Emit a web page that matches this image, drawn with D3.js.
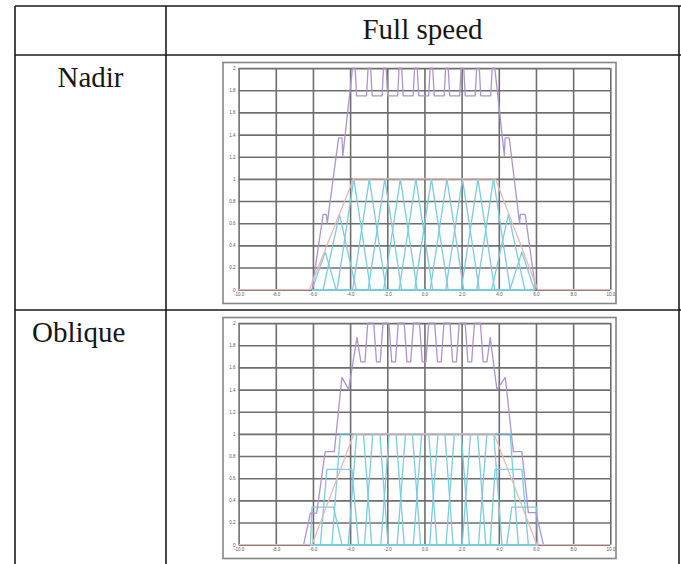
<!DOCTYPE html>
<html lang="en">
<head>
<meta charset="utf-8" />
<title>Full speed</title>
<style>
  body { margin: 0; background: #fff; }
  .label { font-family: "Liberation Serif", "Times New Roman", serif; font-size: 29px; fill: #161616; }
  .rule { stroke: #1a1a1a; stroke-width: 1.6px; }
  .frame { fill: #fff; stroke: #858585; stroke-width: 1.6px; }
  .grid line { stroke: #6e6e6e; stroke-width: 1.6px; }
  .grid .tick text { font-family: "Liberation Sans", Arial, sans-serif; font-size: 4.5px; fill: #555; }
  .line { fill: none; stroke-width: 1.3px; stroke-linejoin: round; }
</style>
<script src="https://cdn.jsdelivr.net/npm/d3@7/dist/d3.min.js"></script>
</head>
<body>
<script>
// tick values and labels
var xTicks = [-10, -8, -6, -4, -2, 0, 2, 4, 6, 8, 10];
var xTickLabels = ["-10.0", "-8.0", "-6.0", "-4.0", "-2.0", "0.0", "2.0", "4.0", "6.0", "8.0", "10.0"];
var yTicks = [0, 0.2, 0.4, 0.6, 0.8, 1, 1.2, 1.4, 1.6, 1.8, 2];
var yTickLabels = ["0", "0.2", "0.4", "0.6", "0.8", "1", "1.2", "1.4", "1.6", "1.8", "2"];

var headerText = "Full speed";
var rowLabels = ["Nadir", "Oblique"];

// ---- Nadir ----
var nadirEnvelope = [[-10, 0], [-6.2, 0], [-3.82, 1], [3.82, 1], [6.1, 0], [10, 0]];
var nadirTotal = [[-6.05, 0], [-5.45, 0.68], [-5.28, 0.68], [-5.23, 0.6], [-4.62, 1.37], [-4.44, 1.37],
  [-4.39, 1.21], [-3.87, 2], [-3.73, 2], [-3.65, 1.75],
  [-3.115, 1.75], [-3.035, 2], [-2.895, 2], [-2.815, 1.75],
  [-2.28, 1.75], [-2.2, 2], [-2.06, 2], [-1.98, 1.75],
  [-1.445, 1.75], [-1.365, 2], [-1.225, 2], [-1.145, 1.75],
  [-0.61, 1.75], [-0.53, 2], [-0.39, 2], [-0.31, 1.75],
  [0.225, 1.75], [0.305, 2], [0.445, 2], [0.525, 1.75],
  [1.06, 1.75], [1.14, 2], [1.28, 2], [1.36, 1.75],
  [1.895, 1.75], [1.975, 2], [2.115, 2], [2.195, 1.75],
  [2.73, 1.75], [2.81, 2], [2.95, 2], [3.03, 1.75],
  [3.565, 1.75], [3.645, 2], [3.785, 2],
  [4.3, 1.21], [4.34, 1.37], [4.56, 1.37], [5.12, 0.6], [5.16, 0.68], [5.42, 0.68], [5.98, 0]];
var nadirBase = [-6.05, 5.95];
var nadirFootprints = [
  [[-6.05, 0], [-5.34, 0.34], [-4.75, 0]],
  [[-5.45, 0], [-4.57, 0.68], [-3.67, 0]],
  [[-4.7, 0], [-3.8, 1], [-2.9, 0]],
  [[-3.865, 0], [-2.965, 1], [-2.065, 0]],
  [[-3.03, 0], [-2.13, 1], [-1.23, 0]],
  [[-2.195, 0], [-1.295, 1], [-0.395, 0]],
  [[-1.36, 0], [-0.46, 1], [0.44, 0]],
  [[-0.525, 0], [0.375, 1], [1.275, 0]],
  [[0.31, 0], [1.21, 1], [2.11, 0]],
  [[1.145, 0], [2.045, 1], [2.945, 0]],
  [[1.98, 0], [2.88, 1], [3.78, 0]],
  [[2.815, 0], [3.715, 1], [4.615, 0]],
  [[3.62, 0], [4.52, 0.68], [5.4, 0]],
  [[4.6, 0], [5.24, 0.34], [5.92, 0]]
];

// ---- Oblique ----
var obliqueEnvelope = [[-10, 0], [-6.05, 0], [-3.8, 1], [3.75, 1], [6.05, 0], [10, 0]];
var obliqueTotal = [[-6.5, 0], [-6.14, 0.285], [-5.8, 0.285], [-5.34, 0.84], [-4.85, 0.84], [-4.44, 1.51],
  [-4.08, 1.4], [-3.63, 1.87], [-3.42, 1.65], [-3.2, 1.65], [-3.05, 2],
  [-2.73, 2], [-2.58, 1.65], [-2.38, 1.65], [-2.23, 2],
  [-1.91, 2], [-1.76, 1.65], [-1.56, 1.65], [-1.41, 2],
  [-1.09, 2], [-0.94, 1.65], [-0.74, 1.65], [-0.59, 2],
  [-0.27, 2], [-0.12, 1.65], [0.08, 1.65], [0.23, 2],
  [0.55, 2], [0.7, 1.65], [0.9, 1.65], [1.05, 2],
  [1.37, 2], [1.52, 1.65], [1.72, 1.65], [1.87, 2],
  [2.19, 2], [2.34, 1.65], [2.54, 1.65], [2.69, 2],
  [3.01, 2], [3.16, 1.65], [3.36, 1.65], [3.54, 1.87], [3.9, 1.4], [4.35, 1.51],
  [4.78, 0.84], [5.24, 0.84], [5.59, 0.29], [6.0, 0.29], [6.4, 0]];
var obliqueBase = [-6.14, 6.1];
var obliqueFootprints = [
  [[-6.14, 0], [-6.05, 0.34], [-4.89, 0.34], [-4.44, 0]],
  [[-5.6, 0], [-5.25, 0.68], [-3.9, 0.68], [-3.55, 0]],
  [[-4.98, 0], [-4.53, 1], [-3.28, 1], [-2.84, 0]],
  [[-4.1, 0], [-3.65, 1], [-2.4, 1], [-1.96, 0]],
  [[-3.23, 0], [-2.78, 1], [-1.53, 1], [-1.09, 0]],
  [[-2.35, 0], [-1.9, 1], [-0.65, 1], [-0.21, 0]],
  [[-1.47, 0], [-1.02, 1], [0.23, 1], [0.67, 0]],
  [[-0.6, 0], [-0.15, 1], [1.1, 1], [1.54, 0]],
  [[0.28, 0], [0.73, 1], [1.98, 1], [2.42, 0]],
  [[1.16, 0], [1.61, 1], [2.86, 1], [3.3, 0]],
  [[2.03, 0], [2.48, 1], [3.73, 1], [4.17, 0]],
  [[2.91, 0], [3.36, 1], [4.61, 1], [5.05, 0]],
  [[3.53, 0], [3.8, 0.68], [5.24, 0.68], [5.59, 0]],
  [[4.43, 0], [4.7, 0.34], [6.04, 0.34], [6.1, 0]]
];

var charts = [
  {top: 62.5, envelope: nadirEnvelope, total: nadirTotal, base: nadirBase, prints: nadirFootprints},
  {top: 317.5, envelope: obliqueEnvelope, total: obliqueTotal, base: obliqueBase, prints: obliqueFootprints}
];

var svg = d3.select("body").append("svg")
  .attr("width", 681)
  .attr("height", 564);

// table rules
var hRules = [6, 55, 310];
hRules.forEach(function(yy) {
  svg.append("line").attr("class", "rule")
    .attr("x1", 15).attr("x2", 681).attr("y1", yy).attr("y2", yy);
});
[15, 166, 679].forEach(function(xx) {
  svg.append("line").attr("class", "rule")
    .attr("x1", xx).attr("x2", xx).attr("y1", 6).attr("y2", 564);
});

svg.append("text").attr("class", "label")
  .attr("x", 422.5).attr("y", 39).attr("text-anchor", "middle")
  .text(headerText);
svg.append("text").attr("class", "label")
  .attr("x", 90.5).attr("y", 87).attr("text-anchor", "middle")
  .text(rowLabels[0]);
svg.append("text").attr("class", "label")
  .attr("x", 32).attr("y", 342)
  .text(rowLabels[1]);

// plot geometry inside each chart frame
var frameW = 393, frameH = 241;
var margin = {left: 15.6, top: 5.6};
var width = 371.7, height = 221.6;

var x = d3.scaleLinear().domain([-10, 10]).range([0, width]);
var y = d3.scaleLinear().domain([0, 2]).range([height, 0]);

var line = d3.line()
  .x(function(d) { return x(d[0]); })
  .y(function(d) { return y(d[1]); });

charts.forEach(function(c) {
  var frame = svg.append("g")
    .attr("transform", "translate(223," + c.top + ")");

  frame.append("rect").attr("class", "frame")
    .attr("width", frameW).attr("height", frameH);

  var g = frame.append("g")
    .attr("transform", "translate(" + margin.left + "," + margin.top + ")");

  // gridlines + labels
  g.append("g").attr("class", "grid")
    .attr("transform", "translate(0," + height + ")")
    .call(d3.axisBottom(x).tickValues(xTicks).tickSize(-height).tickPadding(3)
      .tickFormat(function(d, i) { return xTickLabels[i]; }))
    .call(function(a) { a.select(".domain").remove(); });

  g.append("g").attr("class", "grid")
    .call(d3.axisLeft(y).tickValues(yTicks).tickSize(-width).tickPadding(3)
      .tickFormat(function(d, i) { return yTickLabels[i]; }))
    .call(function(a) { a.select(".domain").remove(); });

  // footprints (cyan), each padded out along zero
  c.prints.forEach(function(p) {
    var pts = [[c.base[0], 0]].concat(p, [[c.base[1], 0]]);
    g.append("path")
      .datum(pts)
      .attr("class", "line")
      .style("stroke", "#7ccbde")
      .attr("d", line);
  });

  // total (purple)
  g.append("path")
    .datum(c.total)
    .attr("class", "line")
    .style("stroke", "#ad94cf")
    .attr("d", line);

  // envelope (pink)
  g.append("path")
    .datum(c.envelope)
    .attr("class", "line")
    .style("stroke", "#e8b9b4")
    .attr("d", line);
});
</script>
</body>
</html>
